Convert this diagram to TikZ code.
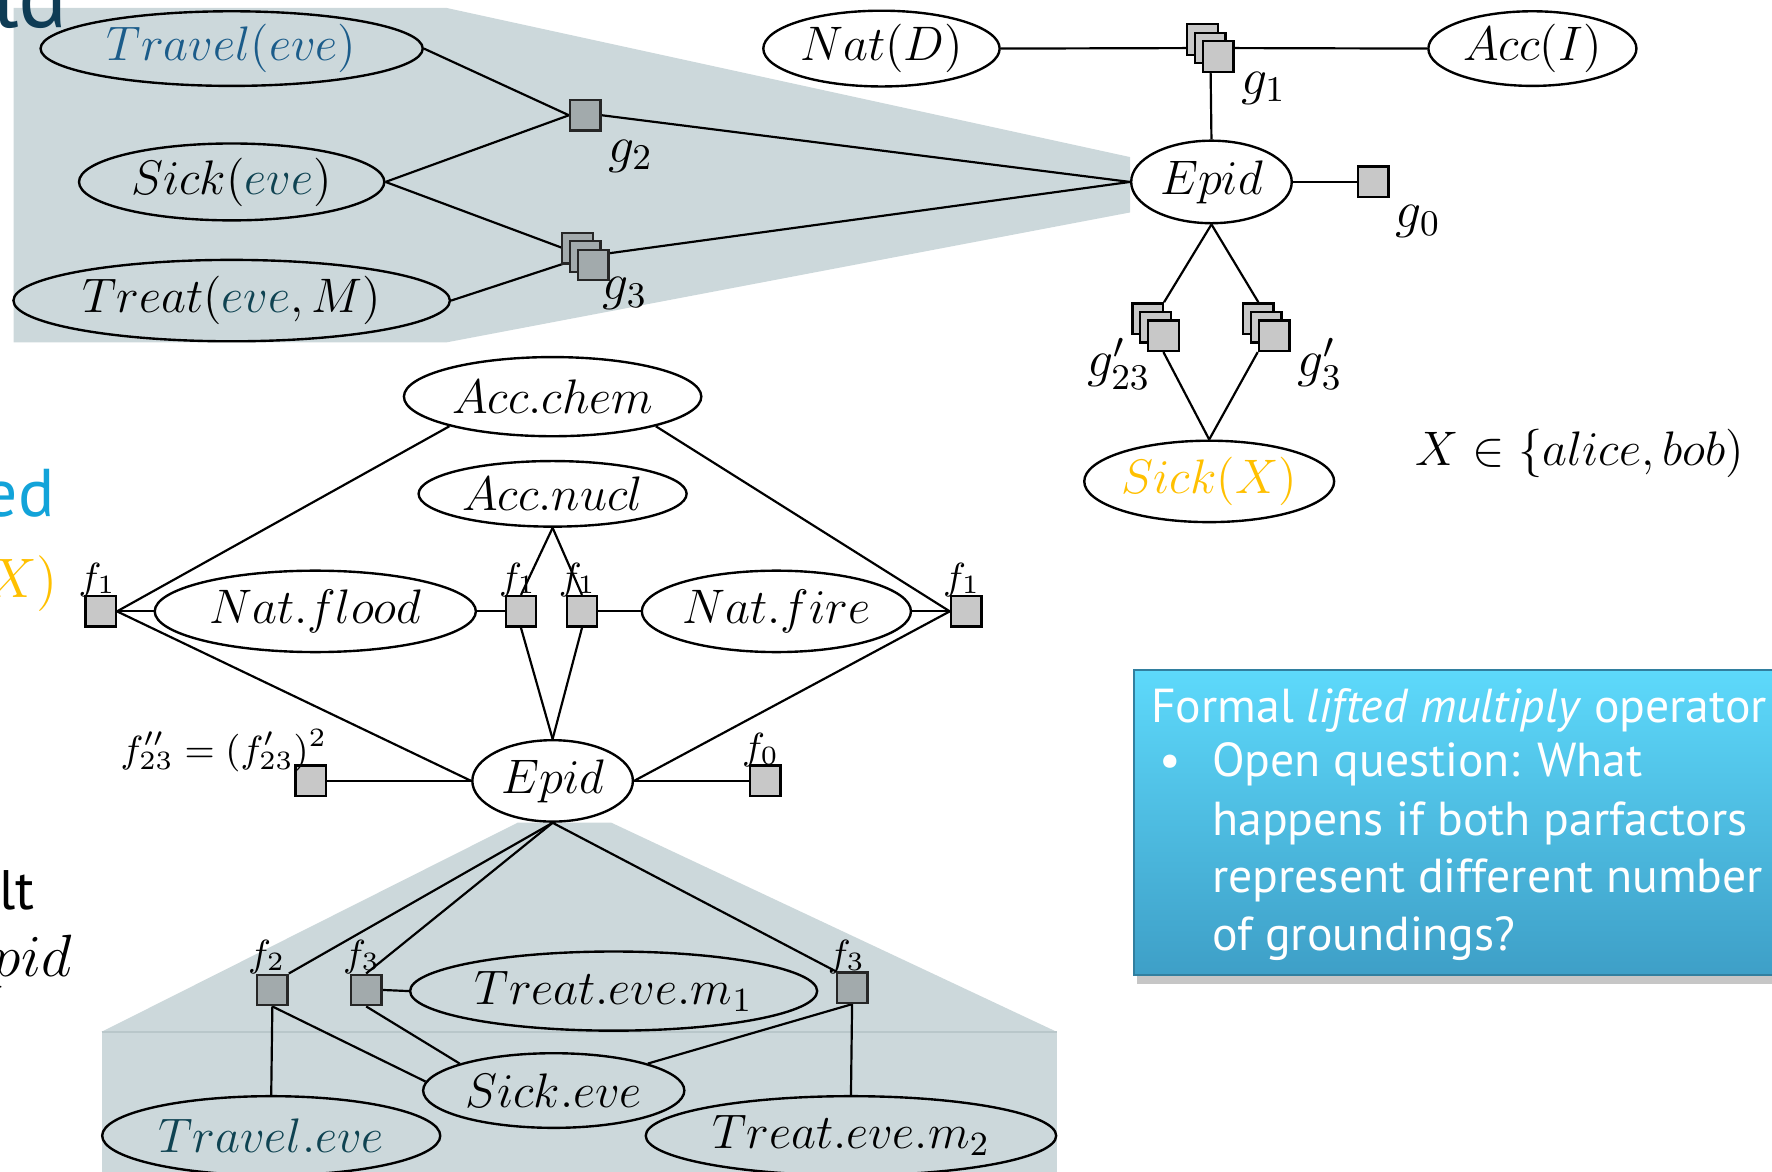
\RequirePackage{fix-cm}
\documentclass[tikz,border=0pt]{standalone}
\usepackage{fontspec}
\newfontfamily\boxfont{PT Sans}
\usetikzlibrary{shapes.geometric,shadows}

\definecolor{panel}{HTML}{CCD8DB}
\definecolor{panelline}{HTML}{B9C7CA}
\definecolor{sqlight}{HTML}{C8C8C8}
\definecolor{sqdark}{HTML}{A2AAAC}
\definecolor{travblue}{HTML}{1B5C8A}
\definecolor{evecol}{HTML}{0F4352}
\definecolor{orangex}{HTML}{FFC000}
\definecolor{boxtop}{HTML}{5DD9FB}
\definecolor{boxbot}{HTML}{3E9FC7}
\definecolor{titlecol}{HTML}{0F3C55}
\definecolor{cyanword}{HTML}{12A3D9}

\newcommand\nodesize{\fontsize{12.2}{14}\selectfont}
\newcommand\gsize{\fontsize{13}{15}\selectfont}
\newcommand\fsize{\fontsize{9.5}{11}\selectfont}

% three overlapping factor squares; #1 name prefix, (#2,#3) middle square, #4 style
\newcommand\sqstack[4]{%
  \node[#4] (#1a) at (#2-7,#3-7.5) {};
  \node[#4] (#1b) at (#2,#3) {};
  \node[#4] (#1c) at (#2+7,#3+7.5) {};}

\pgfdeclarelayer{back}
\pgfdeclarelayer{wires}
\pgfsetlayers{back,wires,main}

\begin{document}
\begin{tikzpicture}[x=0.01cm,y=-0.01cm,
  ell/.style={ellipse,draw,line width=0.6pt,inner sep=0pt,font=\nodesize},
  sq/.style={draw,line width=0.6pt,fill=sqlight,minimum size=0.27cm,inner sep=0pt},
  sqd/.style={sq,fill=sqdark,draw=black!85},
  wire/.style={line width=0.55pt},
  glab/.style={inner sep=0pt,font=\gsize},
  flab/.style={inner sep=0pt,font=\fsize},
  boxtxt/.style={anchor=base west,inner sep=0pt,text=white,font=\boxfont\fontsize{12}{14}\selectfont},
  frag/.style={anchor=base east,inner sep=0pt}]

\useasboundingbox (0,0) rectangle (1568,1037);

% shaded regions behind the grounded parts
\begin{pgfonlayer}{back}
  \fill[panel] (12,7) -- (395,7) -- (1000,139) -- (1000,188) -- (395,303) -- (12,303) -- cycle;
  \fill[panel] (458,728) -- (541,728) -- (935,913) -- (90,913) -- cycle;
  \fill[panel] (90,913) rectangle (935,1045);
  \draw[panelline,line width=0.4pt] (90,913) -- (935,913);
\end{pgfonlayer}

% clipped slide text at the left edge
\node[frag,text=titlecol,font=\boxfont\fontsize{23}{26}\selectfont] (fragA) at (61,24) {ld};
\node[frag,text=cyanword,font=\boxfont\fontsize{17}{20}\selectfont] (fragB) at (49,457) {ed};
\node[frag,text=orangex,font=\fontsize{14}{16}\selectfont] (fragC) at (52,529) {$X)$};
\node[frag,font=\boxfont\fontsize{14}{16}\selectfont] (fragD) at (31,805) {lt};
\node[frag,font=\fontsize{15}{17}\selectfont] (fragE) at (64,864) {$pid$};

% ---------- upper left: grounded eve part ----------
\node[ell,minimum width=3.38cm,minimum height=0.66cm] (trav) at (205,43) {$\color{travblue}Travel(eve)$};
\node[ell,minimum width=2.70cm,minimum height=0.68cm] (sick) at (205,161) {$Sick({\color{evecol}eve})$};
\node[ell,minimum width=3.86cm,minimum height=0.72cm] (treat) at (205,266) {$Treat({\color{evecol}eve},M)$};
\node[sqd] (g2) at (518,102) {};
\sqstack{g3}{518}{227}{sqd}
\node[glab] (g2l) at (558,138) {$g_2$};
\node[glab] (g3l) at (553,260) {$g_3$};

% ---------- upper right: lifted model ----------
\node[ell,fill=white,minimum width=2.09cm,minimum height=0.67cm] (natd) at (780,43) {$Nat(D)$};
\node[ell,fill=white,minimum width=1.84cm,minimum height=0.66cm] (acci) at (1356,43) {$Acc(I)$};
\node[ell,fill=white,minimum width=1.42cm,minimum height=0.73cm] (epidA) at (1072,161) {$Epid$};
\node[ell,fill=white,minimum width=2.21cm,minimum height=0.72cm] (sickx) at (1070,426) {$\color{orangex}Sick(X)$};
\sqstack{g1}{1071}{42.5}{sq}
\node[sq] (g0) at (1215,161) {};
\sqstack{gp}{1022.5}{289.5}{sq}
\sqstack{gq}{1120.5}{289.5}{sq}
\node[glab] (g1l) at (1118,78) {$g_1$};
\node[glab] (g0l) at (1255,196) {$g_0$};
\node[glab] (gpl) at (990,322) {$g'_{23}$};
\node[glab] (gql) at (1168,322) {$g'_3$};
\node[inner sep=0pt,font=\nodesize] (dom) at (1398,401) {$X\in\{alice,bob)$};

% ---------- middle: propositional model ----------
\node[ell,fill=white,minimum width=2.63cm,minimum height=0.70cm] (accchem) at (489,351) {$Acc.chem$};
\node[ell,fill=white,minimum width=2.37cm,minimum height=0.58cm] (accnucl) at (489,437) {$Acc.nucl$};
\node[ell,fill=white,minimum width=2.84cm,minimum height=0.72cm] (natflood) at (279,541) {$Nat.flood$};
\node[ell,fill=white,minimum width=2.38cm,minimum height=0.72cm] (natfire) at (687,541) {$Nat.fire$};
\node[ell,fill=white,minimum width=1.42cm,minimum height=0.72cm] (epidB) at (489,691) {$Epid$};
\node[sq] (f1a) at (89,541) {};
\node[sq] (f1b) at (461,541) {};
\node[sq] (f1c) at (515,541) {};
\node[sq] (f1d) at (855,541) {};
\node[sq] (fpp) at (275,691) {};
\node[sq] (f0) at (677,691) {};

% ---------- bottom: grounded eve part ----------
\node[ell,minimum width=3.60cm,minimum height=0.70cm] (treatm1) at (543,877) {$Treat.eve.m_1$};
\node[ell,minimum width=2.31cm,minimum height=0.66cm] (sickeve) at (490,965) {$Sick.eve$};
\node[ell,minimum width=2.99cm,minimum height=0.70cm] (traveleve) at (240,1005) {$\color{evecol}Travel.eve$};
\node[ell,minimum width=3.63cm,minimum height=0.70cm] (treatm2) at (753,1005) {$Treat.eve.m_2$};
\node[sqd] (f2) at (241,876) {};
\node[sqd] (f3) at (324,876) {};
\node[sqd] (f3r) at (754,874) {};

% ---------- wires ----------
\begin{pgfonlayer}{wires}
  \draw[wire] (trav.east) -- (g2.west);
  \draw[wire] (sick.east) -- (g2.west);
  \draw[wire] (sick.east) -- (g3b.center);
  \draw[wire] (treat.east) -- (g3b.center);
  \draw[wire] (g2.east) -- (epidA.west);
  \draw[wire] (g3b.center) -- (epidA.west);

  \draw[wire] (natd.east) -- (g1b.center);
  \draw[wire] (g1b.center) -- (acci.west);
  \draw[wire] (g1b.center) -- (epidA.north);
  \draw[wire] (epidA.east) -- (g0.west);
  \draw[wire] (epidA.south) -- (gpa.north east);
  \draw[wire] (epidA.south) -- (gqa.north);
  \draw[wire] (gpc.south) -- (sickx.north);
  \draw[wire] (gqc.south west) -- (sickx.north);

  \draw[wire] (accchem.196) -- (f1a.east);
  \draw[wire] (accchem.344) -- (f1d.west);
  \draw[wire] (accnucl.south) -- (f1b.north);
  \draw[wire] (accnucl.south) -- (f1c.north);
  \draw[wire] (f1a.east) -- (natflood.west);
  \draw[wire] (natflood.east) -- (f1b.west);
  \draw[wire] (f1c.east) -- (natfire.west);
  \draw[wire] (natfire.east) -- (f1d.west);
  \draw[wire] (f1a.east) -- (epidB.west);
  \draw[wire] (f1b.south) -- (epidB.north);
  \draw[wire] (f1c.south) -- (epidB.north);
  \draw[wire] (f1d.west) -- (epidB.east);
  \draw[wire] (fpp.east) -- (epidB.west);
  \draw[wire] (epidB.east) -- (f0.west);

  \draw[wire] (epidB.south) -- (f2.north east);
  \draw[wire] (epidB.south) -- (f3.north);
  \draw[wire] (epidB.south) -- (f3r.north west);
  \draw[wire] (f3.east) -- (treatm1.west);
  \draw[wire] (f2.south) -- (traveleve.north);
  \draw[wire] (f2.south) -- (sickeve.176);
  \draw[wire] (f3.south) -- (sickeve.164);
  \draw[wire] (f3r.south) -- (sickeve.16);
  \draw[wire] (f3r.south) -- (treatm2.north);
\end{pgfonlayer}

% factor labels
\node[flab] (f1al) at (86,513) {$f_1$};
\node[flab] (f1bl) at (458,513) {$f_1$};
\node[flab] (f1cl) at (511,513) {$f_1$};
\node[flab] (f1dl) at (851,513) {$f_1$};
\node[flab] (fppl) at (198,664) {$f''_{23}=(f'_{23})^2$};
\node[flab] (f0l) at (673,664) {$f_0$};
\node[flab] (f2l) at (236,847) {$f_2$};
\node[flab] (f3l) at (320,847) {$f_3$};
\node[flab] (f3rl) at (749,847) {$f_3$};

% note box
\node[anchor=north west,inner sep=0pt,minimum width=6cm,minimum height=2.70cm,
      top color=boxtop,bottom color=boxbot,draw=boxbot!80!black,line width=0.4pt,
      drop shadow={shadow xshift=0.6pt,shadow yshift=-2.2pt,opacity=0.45}] (note) at (1003,592) {};
\node[boxtxt] (c1) at (1018,639) {Formal \textit{lifted multiply} operator};
\node[boxtxt] (c2) at (1025,687) {\textbullet};
\node[boxtxt] (c3) at (1072,687) {Open question: What};
\node[boxtxt] (c4) at (1072,739) {happens if both parfactors};
\node[boxtxt] (c5) at (1072,790) {represent different number};
\node[boxtxt] (c6) at (1072,841) {of groundings?};
\end{tikzpicture}
\end{document}
